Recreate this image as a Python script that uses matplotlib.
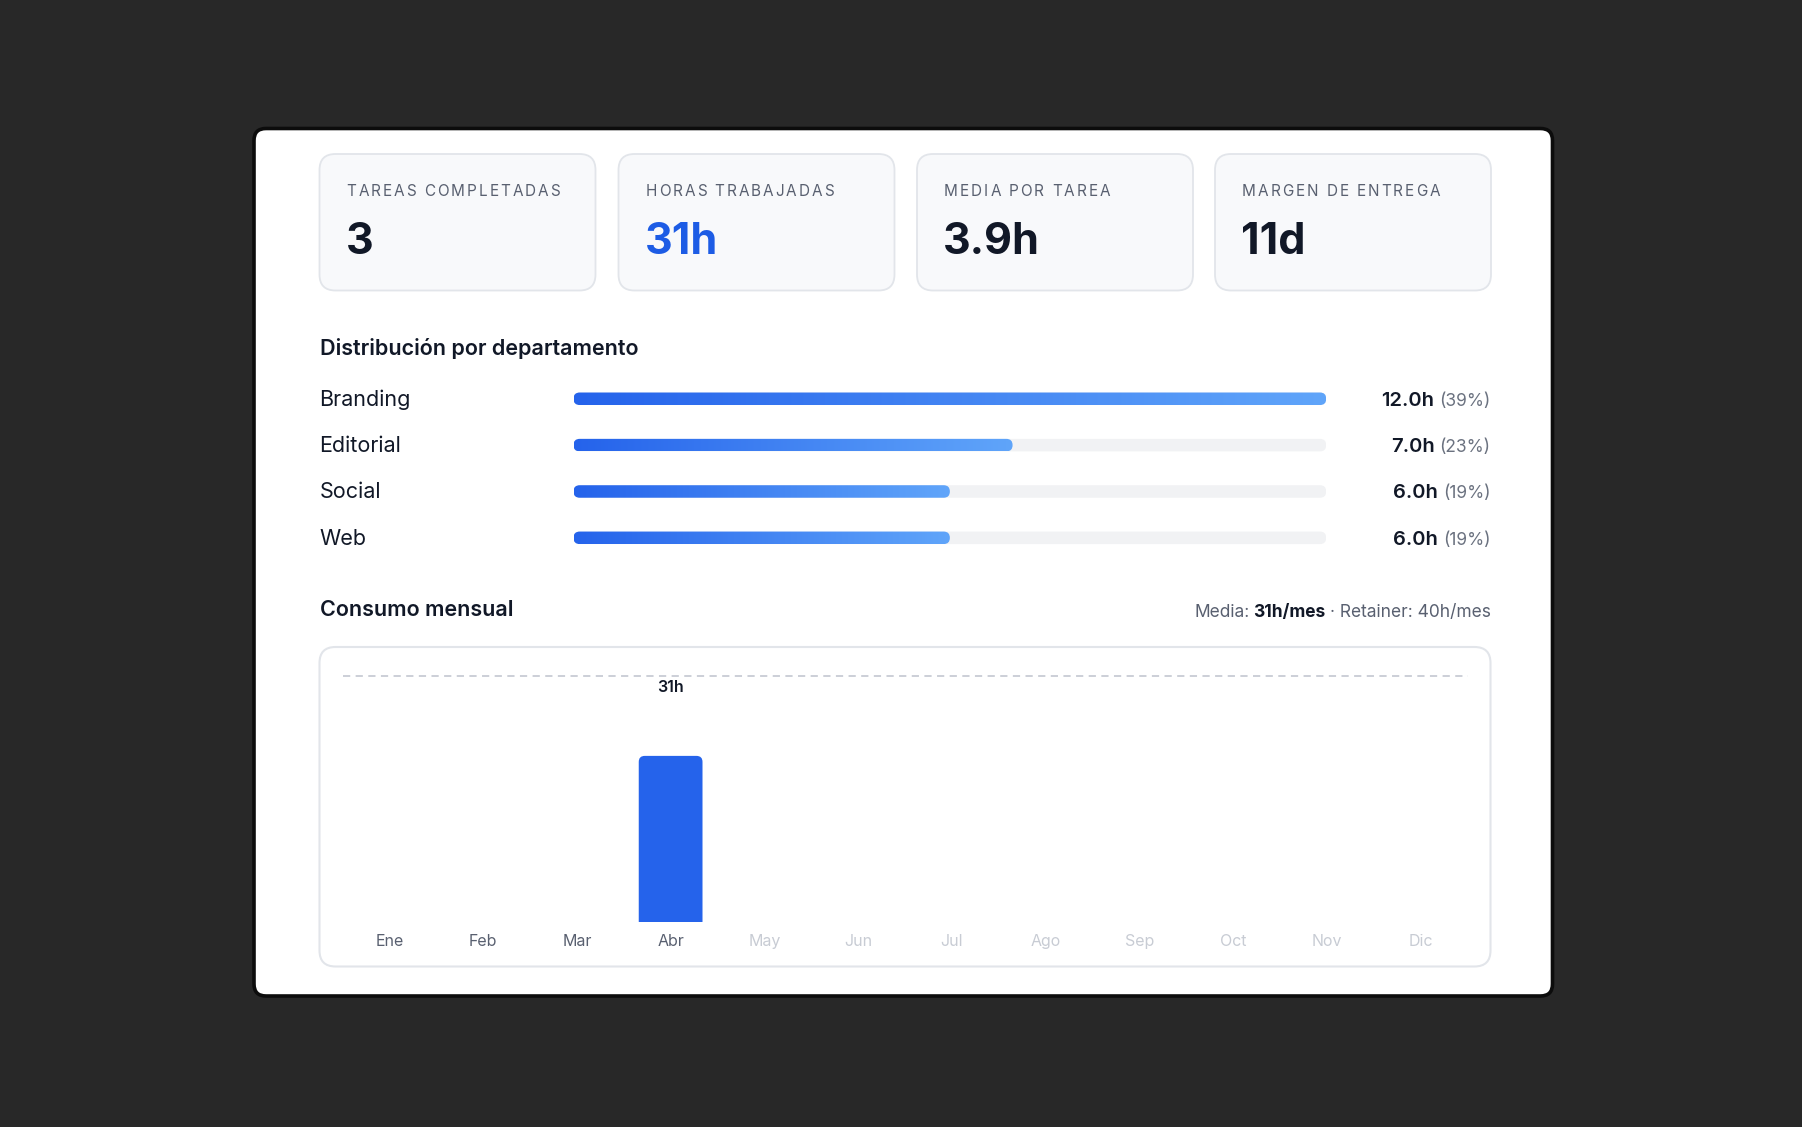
import matplotlib
matplotlib.use("Agg")
import matplotlib.pyplot as plt
import numpy as np
from matplotlib.patches import FancyBboxPatch
from matplotlib.colors import LinearSegmentedColormap
from matplotlib.transforms import blended_transform_factory

plt.rcParams["font.family"] = ["Inter", "DejaVu Sans"]

W, H = 1802, 1127

# ---- data -------------------------------------------------------------
KPI_LABELS = ["TAREAS COMPLETADAS", "HORAS TRABAJADAS", "MEDIA POR TAREA", "MARGEN DE ENTREGA"]
KPI_VALUES = ["3", "31h", "3.9h", "11d"]
KPI_ACCENT = 1

DEPTS = ["Branding", "Editorial", "Social", "Web"]
DEPT_HOURS = [12.0, 7.0, 6.0, 6.0]
DEPT_PCT = [39, 23, 19, 19]

MONTHS = ["Ene", "Feb", "Mar", "Abr", "May", "Jun", "Jul", "Ago", "Sep", "Oct", "Nov", "Dic"]
MONTH_HOURS = [0, 0, 0, 31, 0, 0, 0, 0, 0, 0, 0, 0]
CURRENT_MONTH = 3
MEDIA = 31
RETAINER = 40

# ---- palette ----------------------------------------------------------
BG = "#282828"
DARK = "#111827"
GRAY = "#596070"
MUTED = "#6b7280"
FAINT = "#c8ccd4"
BLUE = "#2563eb"
ACCENT = "#1d5ce5"
KPI_FILL = "#f8f9fb"
LINE = "#e2e5ea"
TRACK = "#f1f2f4"
GRAD = LinearSegmentedColormap.from_list("grad", ["#2563eb", "#60a5fa"])

fig = plt.figure(figsize=(W / 100, H / 100), dpi=100, facecolor=BG)
R = fig.canvas.get_renderer()

bg = fig.add_axes([0, 0, 1, 1])
bg.set_xlim(0, W)
bg.set_ylim(H, 0)
bg.axis("off")
bg.set_facecolor(BG)


def frac(x0, y0, x1, y1):
    return [x0 / W, 1 - y1 / H, (x1 - x0) / W, (y1 - y0) / H]


def box(x0, y0, x1, y1, r, fc, ec, lw, z=1):
    bg.add_patch(FancyBboxPatch((x0, y0), x1 - x0, y1 - y0,
                                boxstyle=f"round,pad=0,rounding_size={r}",
                                fc=fc, ec=ec, lw=lw, zorder=z))


def width(t):
    return t.get_window_extent(renderer=R).width


def spaced(x, y, s, tracking, **kw):
    for ch in s:
        if ch == " ":
            x += kw.get("fontsize", 10) * 0.36 + tracking
            continue
        t = bg.text(x, y, ch, **kw)
        x += width(t) + tracking


def px_per_unit(ax):
    (x0, y0), (x1, y1) = ax.transData.transform([(0, 0), (1, 1)])
    return abs(x1 - x0), abs(y1 - y0)


def round_bars(ax, bars, radius, color=None, gradient=False, extend_down=False):
    px, py = px_per_unit(ax)
    for rect in bars:
        rect.set_visible(False)
        x, y = rect.get_xy()
        w, h = rect.get_width(), rect.get_height()
        if w <= 0 or h <= 0:
            continue
        if extend_down:
            y -= radius / py
            h += radius / py
        p = FancyBboxPatch((x, y), w, h,
                           boxstyle=f"round,pad=0,rounding_size={radius / px}",
                           mutation_aspect=px / py, transform=ax.transData,
                           fc=color if color else "none", ec="none", lw=0, zorder=2)
        ax.add_patch(p)
        if gradient:
            im = ax.imshow(np.linspace(0, 1, 256).reshape(1, -1),
                           extent=(x, x + w, y + h, y), cmap=GRAD,
                           aspect="auto", interpolation="bilinear", zorder=3)
            im.set_clip_path(p)


# ---- outer card -------------------------------------------------------
box(254, 128.5, 1552.5, 996, 12, "white", "#0c0c0c", 2.6, z=0)

# ---- KPI cards --------------------------------------------------------
card_x = [319.5, 618.5, 917.0, 1215.0]
card_w = 276
for i, (lab, val) in enumerate(zip(KPI_LABELS, KPI_VALUES)):
    x0 = card_x[i]
    box(x0, 154, x0 + card_w, 290.5, 16, KPI_FILL, LINE, 1.3)
    spaced(x0 + 27, 196.5, lab, 2.0, fontsize=11, color=GRAY, va="baseline", zorder=5)
    bg.text(x0 + 26, 254, val, fontsize=31, fontweight="bold",
            color=ACCENT if i == KPI_ACCENT else DARK, va="baseline", zorder=5)

# ---- distribution -----------------------------------------------------
bg.text(319.5, 355, "Distribución por departamento", fontsize=15.5,
        fontweight="semibold", color=DARK, va="baseline")

row_y = [405.5, 451.8, 498.3, 544.6]
for i, name in enumerate(DEPTS):
    bg.text(319.5, row_y[i], name, fontsize=15.5, color=DARK, va="baseline")
    t = bg.text(1490.5, row_y[i], f"({DEPT_PCT[i]}%)", fontsize=12.5,
                color=MUTED, ha="right", va="baseline")
    bg.text(1490.5 - width(t) - 5, row_y[i], f"{DEPT_HOURS[i]:.1f}h", fontsize=14.5,
            fontweight="semibold", color=DARK, ha="right", va="baseline")

ax_d = fig.add_axes(frac(573.5, 375.6, 1326.2, 561.0))
ax_d.axis("off")
ax_d.patch.set_alpha(0)
n = len(DEPTS)
ypos = np.arange(n)
dmax = max(DEPT_HOURS)
tracks = ax_d.barh(ypos, [dmax] * n, height=0.27, color=TRACK)
fills = ax_d.barh(ypos, DEPT_HOURS, height=0.27, color=BLUE)
ax_d.set_xlim(0, dmax)
ax_d.set_ylim(n - 0.5, -0.5)
round_bars(ax_d, tracks, 6.2, color=TRACK)
round_bars(ax_d, fills, 6.2, gradient=True)
ax_d.set_xlim(0, dmax)
ax_d.set_ylim(n - 0.5, -0.5)

# ---- monthly consumption ---------------------------------------------
bg.text(319.5, 616, "Consumo mensual", fontsize=15.5, fontweight="semibold",
        color=DARK, va="baseline")
t1 = bg.text(1490.5, 617, f"· Retainer: {RETAINER}h/mes", fontsize=12.5,
             color=GRAY, ha="right", va="baseline")
t2 = bg.text(1490.5 - width(t1) - 4, 617, f"{MEDIA}h/mes", fontsize=12.5,
             fontweight="bold", color=DARK, ha="right", va="baseline")
bg.text(1490.5 - width(t1) - width(t2) - 8, 617, "Media:", fontsize=12.5,
        color=GRAY, ha="right", va="baseline")

box(319.5, 647, 1490.5, 966.5, 16, "white", LINE, 1.5)

ax_m = fig.add_axes(frac(342.5, 675.7, 1467.5, 921.6))
ax_m.patch.set_alpha(0)
for s in ax_m.spines.values():
    s.set_visible(False)
top = RETAINER * 1.15
xm = np.arange(len(MONTHS))
bars = ax_m.bar(xm, MONTH_HOURS, width=0.68, color=BLUE)
ax_m.set_xlim(-0.5, len(MONTHS) - 0.5)
ax_m.set_ylim(0, top)
round_bars(ax_m, bars, 6, color=BLUE, extend_down=True)
ax_m.axhline(top, color=FAINT, lw=1.3, ls=(0, (4, 3)), clip_on=False)
ax_m.set_xlim(-0.5, len(MONTHS) - 0.5)
ax_m.set_ylim(0, top)
ax_m.set_yticks([])
ax_m.set_xticks(xm, MONTHS)
ax_m.tick_params(axis="x", length=0, pad=9, labelsize=11.5)
for i, tl in enumerate(ax_m.get_xticklabels()):
    tl.set_color(GRAY if i <= CURRENT_MONTH else FAINT)
tr = blended_transform_factory(ax_m.transData, ax_m.transAxes)
for i, v in enumerate(MONTH_HOURS):
    if v > 0:
        ax_m.text(i, 0.935, f"{v}h", transform=tr, ha="center", va="baseline",
                  fontsize=11.5, fontweight="semibold", color=DARK)

fig.savefig("out.png", dpi=100, facecolor=BG)
